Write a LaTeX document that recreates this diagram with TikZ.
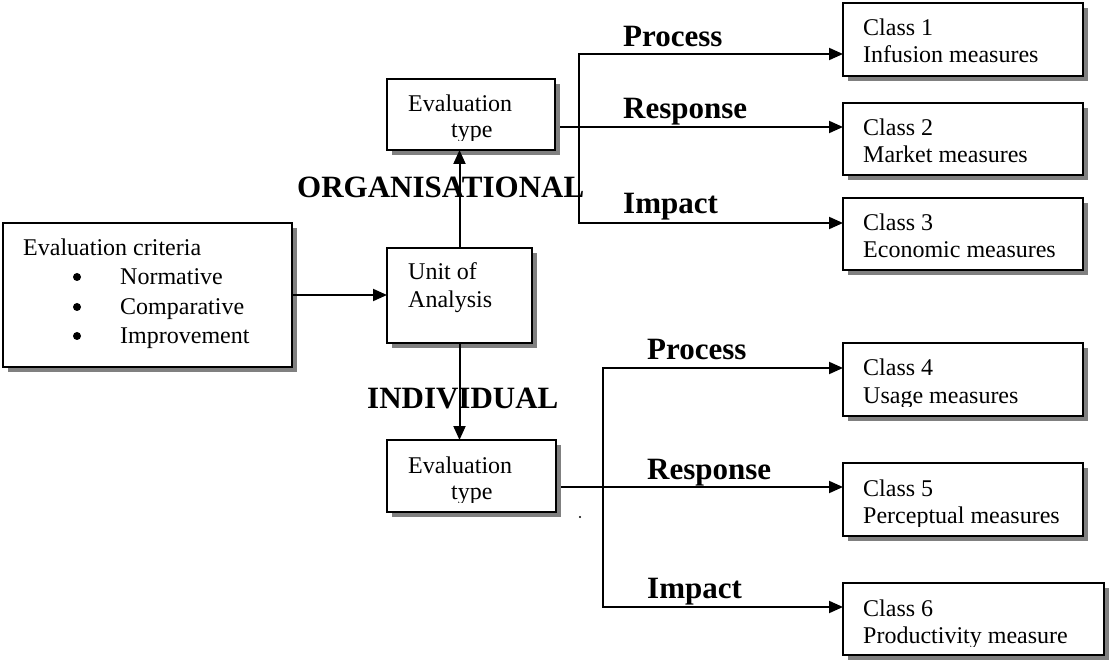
\documentclass[tikz,border=0pt]{standalone}
\usepackage{fontspec}
\setmainfont{Liberation Serif}
\usetikzlibrary{arrows.meta,shadows}

\definecolor{shade}{RGB}{128,128,128}

\tikzset{
  box/.style={draw, line width=2pt, fill=white, anchor=north west,
    inner sep=0pt, outer sep=0pt,
    drop shadow={shadow xshift=5pt, shadow yshift=-5pt, fill=shade, opacity=1}},
  txt/.style={inner sep=0pt, anchor=base west, font=\fontsize{24}{28}\selectfont},
  lbl/.style={inner sep=0pt, anchor=base west, font=\fontsize{31}{36}\selectfont\bfseries},
  dotmark/.style={circle, fill, inner sep=0pt, minimum size=8pt},
  link/.style={line width=2pt, line cap=rect},
  arr/.style={line width=2pt, -{Triangle[length=14pt,width=12pt]}},
}

\begin{document}
\begin{tikzpicture}[x=1pt,y=-1pt]
\useasboundingbox (0,0) rectangle (1109,660);

% boxes
\node[box, minimum width=289pt, minimum height=144pt] (crit) at (3,223) {};
\node[box, minimum width=145pt, minimum height=95pt]  (unit) at (387,248) {};
\node[box, minimum width=168pt, minimum height=71pt]  (evt1) at (387,79) {};
\node[box, minimum width=169pt, minimum height=72pt]  (evt2) at (387,440) {};
\node[box, minimum width=240pt, minimum height=73pt]  (c1) at (843,3) {};
\node[box, minimum width=240pt, minimum height=72pt]  (c2) at (843,103) {};
\node[box, minimum width=240pt, minimum height=72pt]  (c3) at (843,198) {};
\node[box, minimum width=240pt, minimum height=73pt]  (c4) at (843,343) {};
\node[box, minimum width=240pt, minimum height=73pt]  (c5) at (843,463) {};
\node[box, minimum width=261pt, minimum height=72pt]  (c6) at (843,583) {};

% evaluation criteria
\node[txt] (critT) at (23,256) {Evaluation criteria};
\node[dotmark] (bu1) at (77,277) {};
\node[dotmark] (bu2) at (77,307) {};
\node[dotmark] (bu3) at (77,336) {};
\node[txt] (it1) at (120,285) {Normative};
\node[txt] (it2) at (120,315) {Comparative};
\node[txt] (it3) at (120,344) {Improvement};

% unit of analysis
\node[txt] (unitA) at (408,280) {Unit of};
\node[txt] (unitB) at (408,308) {Analysis};

% evaluation type boxes (text frames cut the descenders)
\begin{scope}
  \clip (387,79) rectangle (555,141);
  \node[txt] (e1a) at (408,112) {Evaluation};
  \node[txt] (e1b) at (451,138) {type};
\end{scope}
\begin{scope}
  \clip (387,440) rectangle (556,502);
  \node[txt] (e2a) at (408,473) {Evaluation};
  \node[txt] (e2b) at (451,499) {type};
\end{scope}

% classes
\node[txt] (c1a) at (863,36) {Class 1};
\node[txt] (c1b) at (863,63) {Infusion measures};
\node[txt] (c2a) at (863,136) {Class 2};
\node[txt] (c2b) at (863,163) {Market measures};
\node[txt] (c3a) at (863,231) {Class 3};
\node[txt] (c3b) at (863,258) {Economic measures};
\begin{scope}
  \clip (843,343) rectangle (1083,406);
  \node[txt] (c4a) at (863,376) {Class 4};
  \node[txt] (c4b) at (863,403) {Usage measures};
\end{scope}
\begin{scope}
  \clip (843,463) rectangle (1083,526);
  \node[txt] (c5a) at (863,496) {Class 5};
  \node[txt] (c5b) at (863,523) {Perceptual measures};
\end{scope}
\begin{scope}
  \clip (843,583) rectangle (1104,646);
  \node[txt] (c6a) at (863,616) {Class 6};
  \node[txt] (c6b) at (863,643) {Productivity measure};
\end{scope}

% bold labels
\node[lbl] (org) at (297,198) {ORGANISATIONAL};
\node[lbl] (ind) at (367,408) {INDIVIDUAL};
\node[lbl] (p1) at (623,47)  {Process};
\node[lbl] (r1) at (623,119) {Response};
\node[lbl] (i1) at (623,214) {Impact};
\node[lbl] (p2) at (647,360) {Process};
\node[lbl] (r2) at (647,479) {Response};
\node[lbl] (i2) at (647,598) {Impact};

% branching buses
\coordinate (b1t) at (579,54);
\coordinate (b1m) at (579,127);
\coordinate (b1b) at (579,223);
\coordinate (b2t) at (603,368);
\coordinate (b2m) at (603,487);
\coordinate (b2b) at (603,607);

% connectors
\draw[arr] (crit.east) -- (unit.west |- crit.east);
\draw[arr] (unit.north) -- (unit.north |- evt1.south);
\draw[arr] (unit.south) -- (unit.south |- evt2.north);

\draw[link] (b1t) -- (b1b);
\draw[arr] (b1t) -- (c1.west |- b1t);
\draw[arr] ([xshift=5pt]evt1.east |- b1m) -- (c2.west |- b1m);
\draw[arr] (b1b) -- (c3.west |- b1b);

\draw[link] (b2t) -- (b2b);
\draw[arr] (b2t) -- (c4.west |- b2t);
\draw[arr] ([xshift=5pt]evt2.east |- b2m) -- (c5.west |- b2m);
\draw[arr] (b2b) -- (c6.west |- b2b);

% stray mark
\fill (580,517) circle (1.2pt);
\end{tikzpicture}
\end{document}
